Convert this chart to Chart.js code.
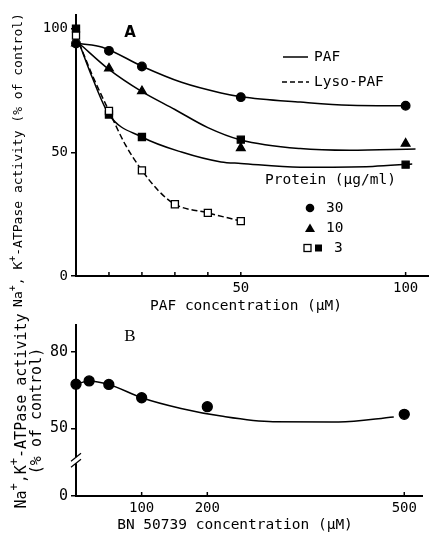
<!DOCTYPE html>
<html><head><meta charset="utf-8">
<script src="https://cdn.jsdelivr.net/npm/chart.js@4/dist/chart.umd.min.js"></script>
<style>
html,body{margin:0;padding:0;background:#fff;width:435px;height:535px;overflow:hidden}
#a{position:absolute;left:0;top:0}
#b{position:absolute;left:0;top:300px}
</style></head><body>
<canvas id="a" width="435" height="320"></canvas>
<canvas id="b" width="435" height="235"></canvas>
<script>
// ---------- Panel A data ----------
const pafConc = [0, 10, 20, 50, 100];
const paf30 = [94, 91, 84.7, 72.3, 68.8];
const paf10 = [94, 83.9, 74.7, 51.7, 53.5];
const paf3 = [100, 65.3, 56.2, 55.1, 45];
const lysoConc = [0, 10, 20, 30, 40, 50];
const lyso3 = [97.2, 66.7, 42.7, 29, 25.5, 22.2];
// fitted curves
const fit30X = [1, 8, 20, 32, 44, 50, 68, 83, 100];
const fit30Y = [94, 92.5, 84.8, 78.3, 74, 72.5, 70.3, 69, 68.8];
const fit10X = [1, 10, 20, 30, 40, 50, 68, 83, 103];
const fit10Y = [94, 83.5, 74.5, 67.3, 60, 55, 51.5, 50.8, 51.3];
const fit3X = [1, 5, 10, 20, 32, 44, 50, 68, 90, 102];
const fit3Y = [94, 80, 65.3, 56.2, 50.1, 46.1, 45.5, 44, 44.3, 45.3];
const fitLysoX = [1, 5, 10, 15, 20, 25, 30, 40, 50];
const fitLysoY = [94, 81, 66.7, 53, 42.7, 34.5, 29, 25.5, 22.2];
const xTicksA = [10, 20, 30, 40, 50, 100];
const xLabelsA = [50, 100];
const yTicksA = [0, 50, 100];

// ---------- Panel B data ----------
const bnConc = [0, 20, 50, 100, 200, 500];
const bnAct = [67.3, 68.6, 67.2, 62, 58.5, 55.5];
const fitBX = [0, 20, 50, 100, 160, 221, 300, 400, 484];
const fitBY = [67.3, 68.6, 67.2, 62, 57.8, 54.8, 52.6, 52.5, 54.5];
const xTicksB = [100, 200, 500];
const yTicksB = [0, 50, 80];
const yBreakBaseB = 23.5; // axis bottom stands for 0 below the axis break
const yBreakAtB = 37.5;

const mono = '"DejaVu Sans Mono", monospace';
Chart.defaults.font.family = mono;
Chart.defaults.color = '#000';

const pts = (xs, ys) => xs.map((x, i) => ({x, y: ys[i]}));
function markers(xs, ys, style, r, fill, order) {
  return {data: pts(xs, ys), showLine: false, pointStyle: style, pointRadius: r,
    pointBackgroundColor: fill, pointBorderColor: '#000', pointBorderWidth: 1.3, clip: false, order};
}
function curve(xs, ys, dash) {
  return {data: pts(xs, ys), showLine: true, pointRadius: 0, borderColor: '#000', borderWidth: 1.5,
    borderDash: dash || [], cubicInterpolationMode: 'monotone', clip: false, order: 5};
}

function drawRich(ctx, parts, cx, cy, size, rotate) {
  ctx.save();
  ctx.translate(cx, cy);
  if (rotate) ctx.rotate(-Math.PI / 2);
  const fN = size + 'px ' + mono, fS = Math.round(size * 0.8) + 'px ' + mono;
  let w = 0;
  parts.forEach(([t, s]) => { ctx.font = s ? fS : fN; w += ctx.measureText(t).width; });
  let x = -w / 2;
  ctx.fillStyle = '#000'; ctx.textBaseline = 'middle'; ctx.textAlign = 'left';
  parts.forEach(([t, s]) => { ctx.font = s ? fS : fN; ctx.fillText(t, x, s ? -size * 0.45 : 0); x += ctx.measureText(t).width; });
  ctx.restore();
}
function inwardTicks(chart, vals, len) {
  const ctx = chart.ctx, sx = chart.scales.x, y0 = chart.chartArea.bottom;
  ctx.save(); ctx.strokeStyle = '#000'; ctx.lineWidth = 1.5;
  vals.forEach(v => { const p = sx.getPixelForValue(v); ctx.beginPath(); ctx.moveTo(p, y0); ctx.lineTo(p, y0 - len); ctx.stroke(); });
  ctx.restore();
}

// ---------- Chart A ----------
const textA = {
  id: 'textA',
  afterDraw(chart) {
    const ctx = chart.ctx;
    inwardTicks(chart, xTicksA, 4);
    drawRich(ctx, [['Na'], ['+', 1], [', K'], ['+', 1], ['-ATPase activity (% of control)']], 19, 160, 13, true);
    drawRich(ctx, [['PAF concentration (µM)']], 246, 306, 14.5, false);
    ctx.save();
    ctx.fillStyle = '#000'; ctx.textBaseline = 'middle';
    ctx.font = 'bold 15px "DejaVu Sans", sans-serif'; ctx.textAlign = 'center';
    ctx.fillText('A', 130, 33);
    ctx.font = '14.5px ' + mono; ctx.textAlign = 'left';
    // legend lines
    ctx.strokeStyle = '#000'; ctx.lineWidth = 1.5;
    ctx.beginPath(); ctx.moveTo(283, 57); ctx.lineTo(308, 57); ctx.stroke();
    ctx.setLineDash([5, 3]);
    ctx.beginPath(); ctx.moveTo(282, 82); ctx.lineTo(309, 82); ctx.stroke();
    ctx.setLineDash([]);
    ctx.fillText('PAF', 314, 57);
    ctx.fillText('Lyso-PAF', 314, 82);
    ctx.fillText('Protein (µg/ml)', 265, 180);
    ctx.fillText('30', 326, 208);
    ctx.fillText('10', 326, 228);
    ctx.fillText('3', 334, 248);
    // legend markers
    ctx.beginPath(); ctx.arc(310, 208, 4.3, 0, Math.PI * 2); ctx.fill();
    ctx.beginPath(); ctx.moveTo(310, 223.5); ctx.lineTo(315, 232); ctx.lineTo(305, 232); ctx.closePath(); ctx.fill();
    ctx.lineWidth = 1.3;
    ctx.fillStyle = '#fff'; ctx.fillRect(304, 244.5, 7, 7); ctx.strokeRect(304, 244.5, 7, 7);
    ctx.fillStyle = '#000'; ctx.fillRect(315, 244.5, 7, 7);
    ctx.restore();
  }
};

new Chart(document.getElementById('a'), {
  type: 'scatter',
  data: {datasets: [
    markers(lysoConc, lyso3, 'rect', 5, '#fff', 0),
    markers(pafConc, paf3, 'rect', 5, '#000', 1),
    markers(pafConc, paf10, 'triangle', 5, '#000', 1),
    markers(pafConc, paf30, 'circle', 4.3, '#000', 1),
    curve(fit30X, fit30Y),
    curve(fit10X, fit10Y),
    curve(fit3X, fit3Y),
    curve(fitLysoX, fitLysoY, [6, 3])
  ]},
  options: {
    responsive: false, animation: false, events: [],
    layout: {padding: {top: 15, right: 3, left: 0, bottom: 0}},
    plugins: {legend: {display: false}, tooltip: {enabled: false}},
    scales: {
      x: {type: 'linear', min: 0, max: 107,
        afterFit(s) { s.height = 44; },
        afterBuildTicks(s) { s.ticks = xTicksA.map(v => ({value: v})); },
        ticks: {callback: v => xLabelsA.includes(v) ? String(v) : '', font: {size: 14}, padding: 4, maxRotation: 0, autoSkip: false},
        grid: {display: false, drawTicks: false}, border: {display: true, color: '#000', width: 2}},
      y: {type: 'linear', min: 0, max: 105.5,
        afterFit(s) { s.width = 76; },
        afterBuildTicks(s) { s.ticks = yTicksA.map(v => ({value: v})); },
        ticks: {font: {size: 14}, padding: 3, autoSkip: false},
        grid: {display: true, drawOnChartArea: false, tickLength: 5, color: '#000', lineWidth: 1.5},
        border: {display: true, color: '#000', width: 2}}
    }
  },
  plugins: [textA]
});

// ---------- Chart B ----------
const textB = {
  id: 'textB',
  afterDraw(chart) {
    const ctx = chart.ctx;
    inwardTicks(chart, xTicksB, 4);
    // axis break
    const sy = chart.scales.y, ax = chart.chartArea.left;
    const pb = sy.getPixelForValue(yBreakAtB);
    ctx.save();
    ctx.fillStyle = '#fff'; ctx.fillRect(ax - 2, pb - 3, 4, 6);
    ctx.strokeStyle = '#000'; ctx.lineWidth = 1.3;
    [-3, 3].forEach(d => { ctx.beginPath(); ctx.moveTo(ax - 5, pb + d + 4); ctx.lineTo(ax + 5, pb + d - 4); ctx.stroke(); });
    ctx.restore();
    drawRich(ctx, [['Na'], ['+', 1], [',K'], ['+', 1], ['-ATPase activity']], 22, 111, 15, true);
    drawRich(ctx, [['(% of control)']], 37, 111, 15, true);
    drawRich(ctx, [['BN 50739 concentration (µM)']], 235, 225, 14.5, false);
    ctx.save();
    ctx.fillStyle = '#000'; ctx.textBaseline = 'middle'; ctx.textAlign = 'center';
    ctx.font = '17px "Liberation Serif", serif';
    ctx.fillText('B', 130, 37);
    ctx.restore();
  }
};

new Chart(document.getElementById('b'), {
  type: 'scatter',
  data: {datasets: [
    markers(bnConc, bnAct, 'circle', 5, '#000', 0),
    curve(fitBX, fitBY)
  ]},
  options: {
    responsive: false, animation: false, events: [],
    layout: {padding: {top: 25, right: 13, left: 0, bottom: 0}},
    plugins: {legend: {display: false}, tooltip: {enabled: false}},
    scales: {
      x: {type: 'linear', min: 0, max: 527,
        afterFit(s) { s.height = 39; },
        afterBuildTicks(s) { s.ticks = xTicksB.map(v => ({value: v})); },
        ticks: {font: {size: 14}, padding: 4, maxRotation: 0, autoSkip: false},
        grid: {display: false, drawTicks: false}, border: {display: true, color: '#000', width: 2}},
      y: {type: 'linear', min: yBreakBaseB, max: 90.5,
        afterFit(s) { s.width = 76; },
        afterBuildTicks(s) { s.ticks = yTicksB.map(v => ({value: v === 0 ? yBreakBaseB : v})); },
        ticks: {font: {size: 15}, padding: 3, autoSkip: false, callback: v => v === yBreakBaseB ? '0' : String(v)},
        grid: {display: true, drawOnChartArea: false, tickLength: 5, color: '#000', lineWidth: 1.5},
        border: {display: true, color: '#000', width: 2}}
    }
  },
  plugins: [textB]
});
</script>
</body></html>
